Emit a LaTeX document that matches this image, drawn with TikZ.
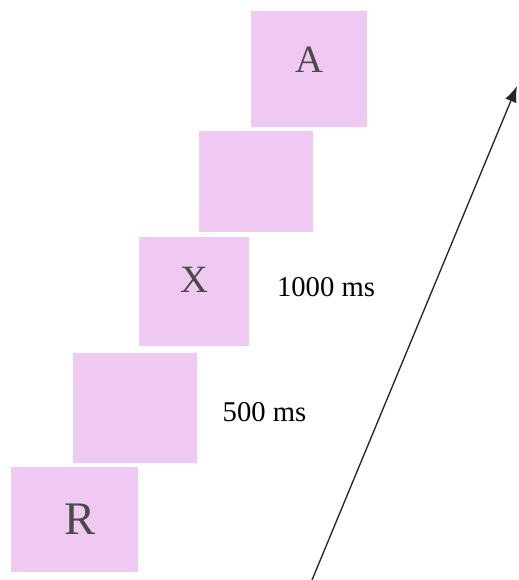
\documentclass[tikz,border=0pt]{standalone}
\usepackage{fontspec}
\setmainfont{Liberation Serif}
\usetikzlibrary{arrows.meta}
\definecolor{lilac}{HTML}{EFC9F1}
\definecolor{ink}{HTML}{4A4A4A}
\tikzset{
  trial/.style={fill=lilac,draw=none,inner sep=0pt,text=ink,
                font=\fontsize{29}{31}\selectfont},
  dur/.style={font=\fontsize{21.5}{24}\selectfont,text=black},
  timeline/.style={-{Latex[length=12pt,width=9pt]},line width=1pt,draw=black!85},
}
\begin{document}
\begin{tikzpicture}[x=0.75pt,y=-0.75pt]
    \useasboundingbox (0,0) rectangle (518,580);
    \node[trial,minimum width=87pt,minimum height=87pt,text depth=14pt] (targetA) at (309,69) {A};
    \node[trial,minimum width=85.5pt,minimum height=75.75pt] (blankA) at (256,181.5) {};
    \node[trial,minimum width=82.5pt,minimum height=81.75pt,text depth=17pt] (probeX) at (194,291.5) {X};
    \node[trial,minimum width=93pt,minimum height=82.5pt] (blankX) at (135,408) {};
    \node[trial,minimum width=95.25pt,minimum height=78.75pt,
          font=\fontsize{35}{37}\selectfont] (cueR) at (74.5,519.5) {\kern9pt R};
    \node[dur] (soaLong) at (326,287) {1000 ms};
    \node[dur] (soaShort) at (264.5,412) {500 ms};
    \coordinate (tStart) at (312,580);
    \coordinate (tEnd) at (517,86);
    \draw[timeline] (tStart) -- (tEnd);
  \end{tikzpicture}
\end{document}
